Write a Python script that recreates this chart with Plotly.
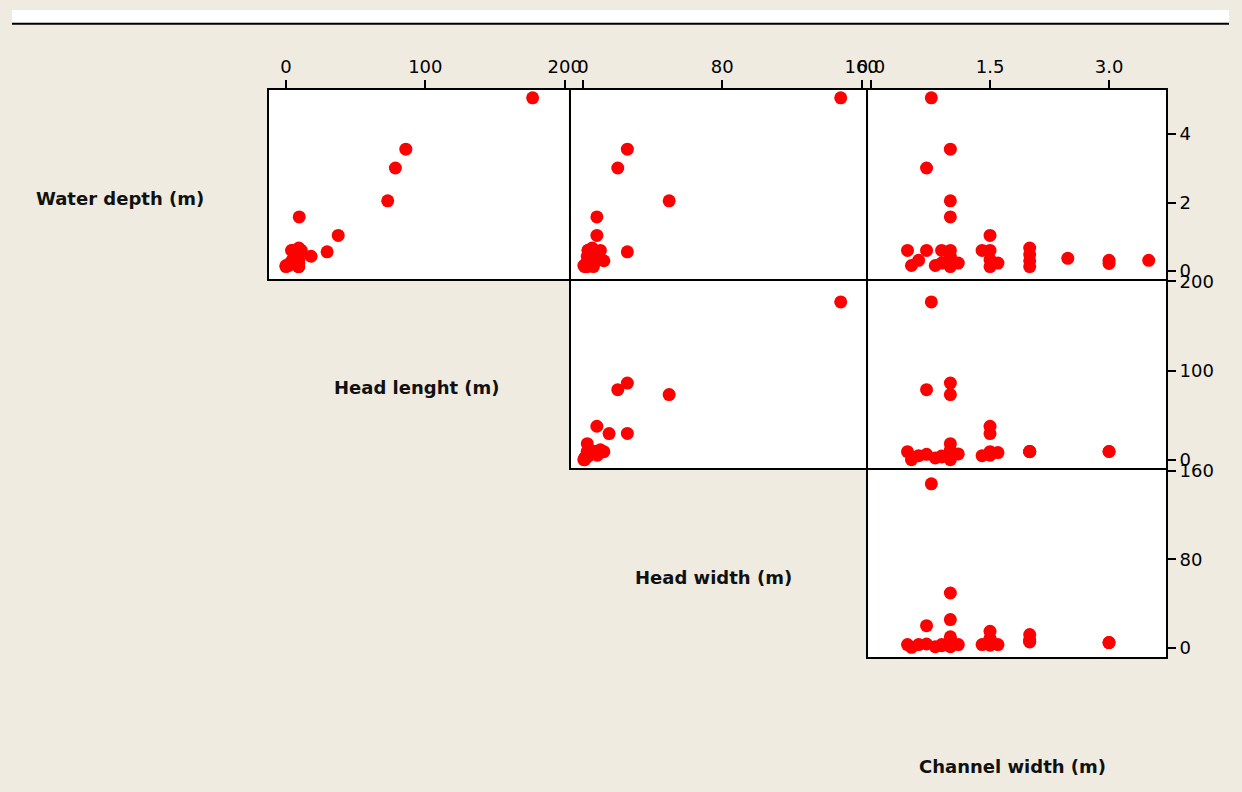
import math
import plotly.graph_objects as go

nan = math.nan

# Field measurements (one entry per site); nan = not recorded
water_depth = [5.06, 3.56, 3.01, 2.05, 1.58, 1.04, 0.56, nan, 0.43, 0.60, 0.16,
               0.31, 0.60, 0.16, 0.60, 0.23, 0.60, 0.13, 0.23, 0.60, 0.60, 0.13,
               0.33, 0.23, 0.67, 0.30, 0.48, 0.13, 0.37, 0.31, 0.22, 0.31]
head_length = [177.0, 86.0, 78.5, 73.0, 9.5, 37.5, 29.5, 29.3, 18.0, 9.0, 0.0,
               4.5, 6.0, 2.0, 4.0, 3.0, 11.0, 0.0, 6.5, 4.5, 7.0, 9.0,
               5.0, 8.0, 9.2, 9.0, 9.2, 9.2, nan, 9.2, 9.2, nan]
head_width = [148.0, 25.5, 20.0, 49.5, 8.0, 8.0, 25.5, 15.0, 2.5, 3.0, 0.5,
              3.0, 3.5, 1.0, 3.0, 2.0, 10.0, 1.0, 3.0, 3.0, 4.0, 2.4,
              8.3, 3.0, 5.3, 12.0, 7.5, 6.0, nan, 4.8, 4.8, nan]
channel_width = [0.76, 1.00, 0.70, 1.00, 1.00, 1.50, nan, 1.50, 1.00, 0.46, 0.51,
                 0.60, 0.70, 0.81, 0.89, 0.89, 1.00, 1.00, 1.10, 1.40, 1.50, 1.50,
                 1.50, 1.60, 2.00, 2.00, 2.00, 2.00, 2.48, 3.00, 3.00, 3.50]

labels = ["Water depth (m)", "Head lenght (m)", "Head width (m)", "Channel width (m)"]

# Tick values per variable
ticks_wd = [0, 2, 4]
ticks_hl = [0, 100, 200]
ticks_hw = [0, 80, 160]
ticks_cw = [0.0, 1.5, 3.0]
ticktext_cw = ["0.0", "1.5", "3.0"]

W, H = 1242, 792
VIEW_X0, VIEW_K = 11.7, 0.981   # on-screen x = VIEW_X0 + VIEW_K * page x
LW = 2                          # frame line width
BEIGE = "#EFEBE0"


def px_x(p):
    # screen pixel -> paper fraction
    return ((p - VIEW_X0) / VIEW_K) / W


def px_y(p):
    return 1 - p / H


# Panel edges in screen pixels (neighbouring frames share one line)
col_edges = [(269, 569), (569 + LW, 867), (867 + LW, 1167)]
row_edges = [(81, 273), (273 + LW, 465), (465 + LW, 657)]

# Screen-pixel positions of two ticks for each scale: (v0, p0, v1, p1)
x_scale = [(0, 286.0, 200, 565.0),
           (0, 583.3, 160, 862.3),
           (0.0, 871.7, 3.0, 1110.0)]
y_scale = [(0, 265.0, 4, 126.0),
           (0, 456.6, 200, 275.6),
           (0, 647.7, 160, 467.6)]


def axis_range(scale, edges, flip=False):
    v0, p0, v1, p1 = scale
    k = (v1 - v0) / (p1 - p0)
    a = v0 + (edges[0] - p0) * k
    b = v0 + (edges[1] - p0) * k
    return [b, a] if flip else [a, b]


xvars = [head_length, head_width, channel_width]
yvars = [water_depth, head_length, head_width]
xticks = [(ticks_hl, [str(v) for v in ticks_hl]),
          (ticks_hw, [str(v) for v in ticks_hw]),
          (ticks_cw, ticktext_cw)]
yticks = [(ticks_wd, [str(v) for v in ticks_wd]),
          (ticks_hl, [str(v) for v in ticks_hl]),
          (ticks_hw, [str(v) for v in ticks_hw])]

tick_font = dict(family="DejaVu Sans", size=18, color="black")

fig = go.Figure()
layout = {}
k = 0
for r in range(3):
    for c in range(r, 3):
        k += 1
        xa = "xaxis" if k == 1 else f"xaxis{k}"
        ya = "yaxis" if k == 1 else f"yaxis{k}"
        xr = "x" if k == 1 else f"x{k}"
        yr = "y" if k == 1 else f"y{k}"
        fig.add_trace(go.Scatter(
            x=xvars[c], y=yvars[r], mode="markers", xaxis=xr, yaxis=yr,
            marker=dict(color="#FF0000", size=13, line=dict(width=0)),
            showlegend=False, hoverinfo="x+y"))
        show_x = (r == 0)
        show_y = (c == 2)
        layout[xa] = dict(
            domain=[px_x(col_edges[c][0]), px_x(col_edges[c][1])],
            range=axis_range(x_scale[c], col_edges[c]), anchor=yr, side="top",
            showgrid=False, zeroline=False,
            showline=True, mirror=True, linecolor="black", linewidth=LW,
            ticks="outside" if show_x else "", ticklen=8, tickwidth=2,
            tickcolor="black", showticklabels=show_x,
            tickvals=xticks[c][0], ticktext=xticks[c][1], tickfont=tick_font)
        layout[ya] = dict(
            domain=[px_y(row_edges[r][1]), px_y(row_edges[r][0])],
            range=axis_range(y_scale[r], row_edges[r], flip=True), anchor=xr,
            side="right", showgrid=False, zeroline=False,
            showline=True, mirror=True, linecolor="black", linewidth=LW,
            ticks="outside" if show_y else "", ticklen=8, tickwidth=2,
            tickcolor="black", showticklabels=show_y,
            tickvals=yticks[r][0], ticktext=yticks[r][1], tickfont=tick_font)

# Variable names on the diagonal cells
label_pos = [(120, 191), (417, 383), (714, 576), (1013, 768)]
annotations = [
    dict(text=f"<b>{t}</b>", x=px_x(x), y=px_y(y), xref="paper", yref="paper",
         xanchor="center", yanchor="middle", showarrow=False,
         font=dict(family="DejaVu Sans", size=18, color="#111111"))
    for t, (x, y) in zip(labels, label_pos)
]

# White strip above the graph region and its top frame line
shapes = [
    dict(type="rect", xref="paper", yref="paper", x0=0, x1=1, y0=px_y(13), y1=1,
         fillcolor="white", line=dict(width=0), layer="below"),
    dict(type="line", xref="paper", yref="paper", x0=0, x1=1,
         y0=px_y(14), y1=px_y(14), line=dict(color="black", width=2)),
]

fig.update_layout(
    width=W, height=H, margin=dict(l=0, r=0, t=0, b=0, pad=0),
    paper_bgcolor=BEIGE, plot_bgcolor="white",
    annotations=annotations, shapes=shapes, **layout)

# Page styling: no margin; the frame (white strip, top line, left edge line)
# continues outside the figure on both sides.
page_js = (
    "document.body.style.margin='0';"
    "document.body.style.background="
    "'linear-gradient(#fff,#fff) 0 0/100% 13px repeat-x,"
    " linear-gradient(#000,#000) 0 13px/100% 2px repeat-x,"
    " linear-gradient(to right," + BEIGE + " 1230px,#fff 1230px,#fff 1238px,"
    "#000 1238px,#000 1240px," + BEIGE + " 1240px) " + BEIGE + "';"
)
fig.write_html("out.html", post_script=page_js)
